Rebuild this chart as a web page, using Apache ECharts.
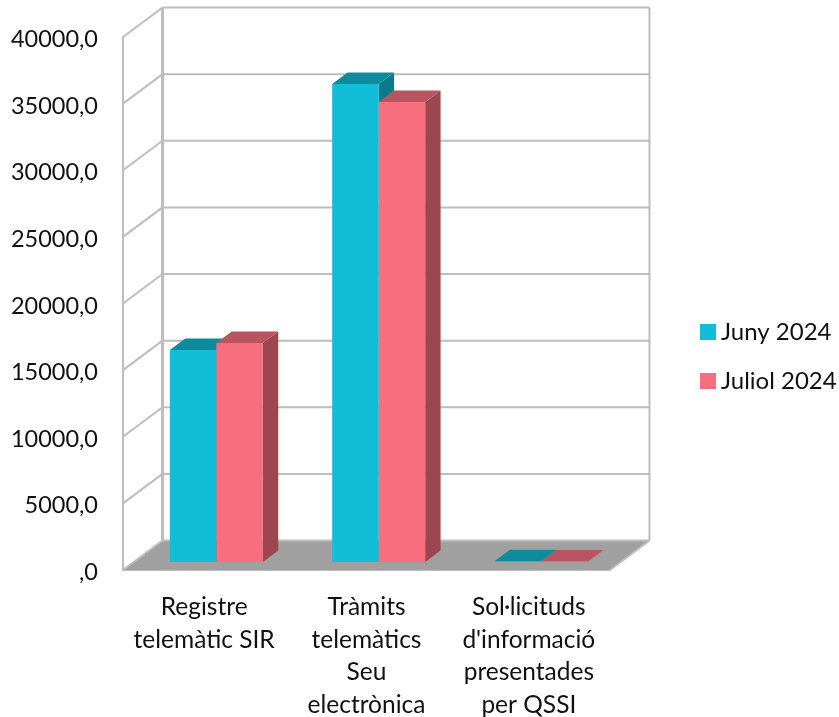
<!DOCTYPE html>
<html><head><meta charset="utf-8">
<style>html,body{margin:0;padding:0;background:#fff}#c{width:839px;height:717px}</style>
<script src="https://cdn.jsdelivr.net/npm/echarts@6/dist/echarts.min.js"></script>
</head><body><div id="c"></div>
<script>
var categories = ["Registre\ntelemàtic SIR", "Tràmits\ntelemàtics\nSeu\nelectrònica", "Sol·licituds\nd'informació\npresentades\nper QSSI"];
var juny = [15910, 35870, 50];
var juliol = [16440, 34530, 40];
var ticks = [0, 5000, 10000, 15000, 20000, 25000, 30000, 35000, 40000];

var FONT = 'Lato';
var WALL = '#BDBDBD';
var wallDx = 39.5, wallDy = -29.5;
var barIn = 0.27, barDepth = 0.39, barW = 0.2865;

function bar(offsetSign, front, top, side) {
  return function (params, api) {
    var c = api.coord([api.value(0), api.value(1)]);
    var b = api.coord([api.value(0), 0]);
    var w = api.size([1, 0])[0] * barW;
    var x0 = c[0] + wallDx * barIn + 1.5 + (offsetSign < 0 ? -w : 0);
    var x1 = x0 + w;
    var yt = c[1] + wallDy * barIn, yb = b[1] + wallDy * barIn;
    var dx = wallDx * barDepth, dy = wallDy * barDepth;
    return { type: 'group', children: [
      { type: 'polygon', shape: { points: [[x1, yt], [x1 + dx, yt + dy], [x1 + dx, yb + dy], [x1, yb]] }, style: { fill: side } },
      { type: 'polygon', shape: { points: [[x0, yt], [x0 + dx, yt + dy], [x1 + dx, yt + dy], [x1, yt]] }, style: { fill: top } },
      { type: 'rect', shape: { x: x0, y: yt, width: w, height: yb - yt }, style: { fill: front } }
    ] };
  };
}

var chart = echarts.init(document.getElementById('c'), null, { renderer: 'canvas' });
chart.setOption({
  animation: false,
  backgroundColor: '#fff',
  grid: { left: 123, top: 37, width: 487, height: 533, containLabel: false, outerBoundsMode: 'none' },
  legend: {
    orient: 'vertical', left: 695, top: 315, itemWidth: 16, itemHeight: 16, itemGap: 25,
    icon: 'rect', data: ['Juny 2024', 'Juliol 2024'],
    textStyle: { fontFamily: FONT, fontSize: 24, color: '#111', padding: [0, 0, 0, 0] }
  },
  xAxis: {
    type: 'category', data: categories,
    axisLine: { lineStyle: { color: WALL, width: 2 } },
    axisTick: { show: false },
    axisLabel: { interval: 0, fontFamily: FONT, fontSize: 24.5, color: '#111', lineHeight: 32.5, margin: 21 }
  },
  yAxis: {
    type: 'value', min: 0, max: 40000, interval: 5000,
    axisLine: { show: true, lineStyle: { color: WALL, width: 2 } },
    axisTick: { show: false }, splitLine: { show: false },
    axisLabel: { margin: 25,
      formatter: function (v) { return '{a|' + (v === 0 ? ',0' : v + ',0') + '}'; },
      rich: { a: { fontFamily: FONT, fontSize: 23.5, color: '#111', padding: [5, 0, 0, 0] } } }
  },
  series: [
    { type: 'custom', name: 'floor', silent: true, clip: false, z: 1, data: [[0, 0]],
      renderItem: function (params, api) {
        var s = params.coordSys, y = api.coord([0, 0])[1], l = s.x, r = s.x + s.width;
        return { type: 'polygon', shape: { points: [[l, y], [l + wallDx, y + wallDy], [r + wallDx, y + wallDy], [r, y]] }, style: { fill: '#A0A0A0' } };
      } },
    { type: 'custom', name: 'walls', silent: true, clip: false, z: 1,
      data: ticks.map(function (t) { return [0, t]; }),
      renderItem: function (params, api) {
        var s = params.coordSys, y = api.coord([0, api.value(1)])[1], l = s.x, r = s.x + s.width;
        var ls = { stroke: WALL, lineWidth: 2, fill: null };
        var kids = [
          { type: 'line', shape: { x1: l, y1: y, x2: l + wallDx, y2: y + wallDy }, style: ls },
          { type: 'line', shape: { x1: l + wallDx, y1: y + wallDy, x2: r + wallDx, y2: y + wallDy }, style: ls }
        ];
        if (params.dataIndex === 0) {
          kids.push({ type: 'line', shape: { x1: r, y1: y, x2: r + wallDx, y2: y + wallDy }, style: { stroke: '#BDBDBD', lineWidth: 2 } });
          kids.push({ type: 'line', shape: { x1: l + wallDx, y1: y + wallDy, x2: l + wallDx, y2: s.y + wallDy }, style: { stroke: WALL, lineWidth: 3 } });
          kids.push({ type: 'line', shape: { x1: r + wallDx, y1: y + wallDy, x2: r + wallDx, y2: s.y + wallDy }, style: { stroke: WALL, lineWidth: 2 } });
        }
        return { type: 'group', children: kids };
      } },
    { type: 'custom', name: 'Juny 2024', clip: false, z: 3, itemStyle: { color: '#12BDD8' },
      encode: { x: 0, y: 1 }, data: juny.map(function (v, i) { return [i, v]; }),
      renderItem: bar(-1, '#12BDD8', '#0E8C9E', '#0C7A8A') },
    { type: 'custom', name: 'Juliol 2024', clip: false, z: 4, itemStyle: { color: '#F76F7F' },
      encode: { x: 0, y: 1 }, data: juliol.map(function (v, i) { return [i, v]; }),
      renderItem: bar(1, '#F76F7F', '#B85560', '#9C4750') }
  ]
});
</script></body></html>
